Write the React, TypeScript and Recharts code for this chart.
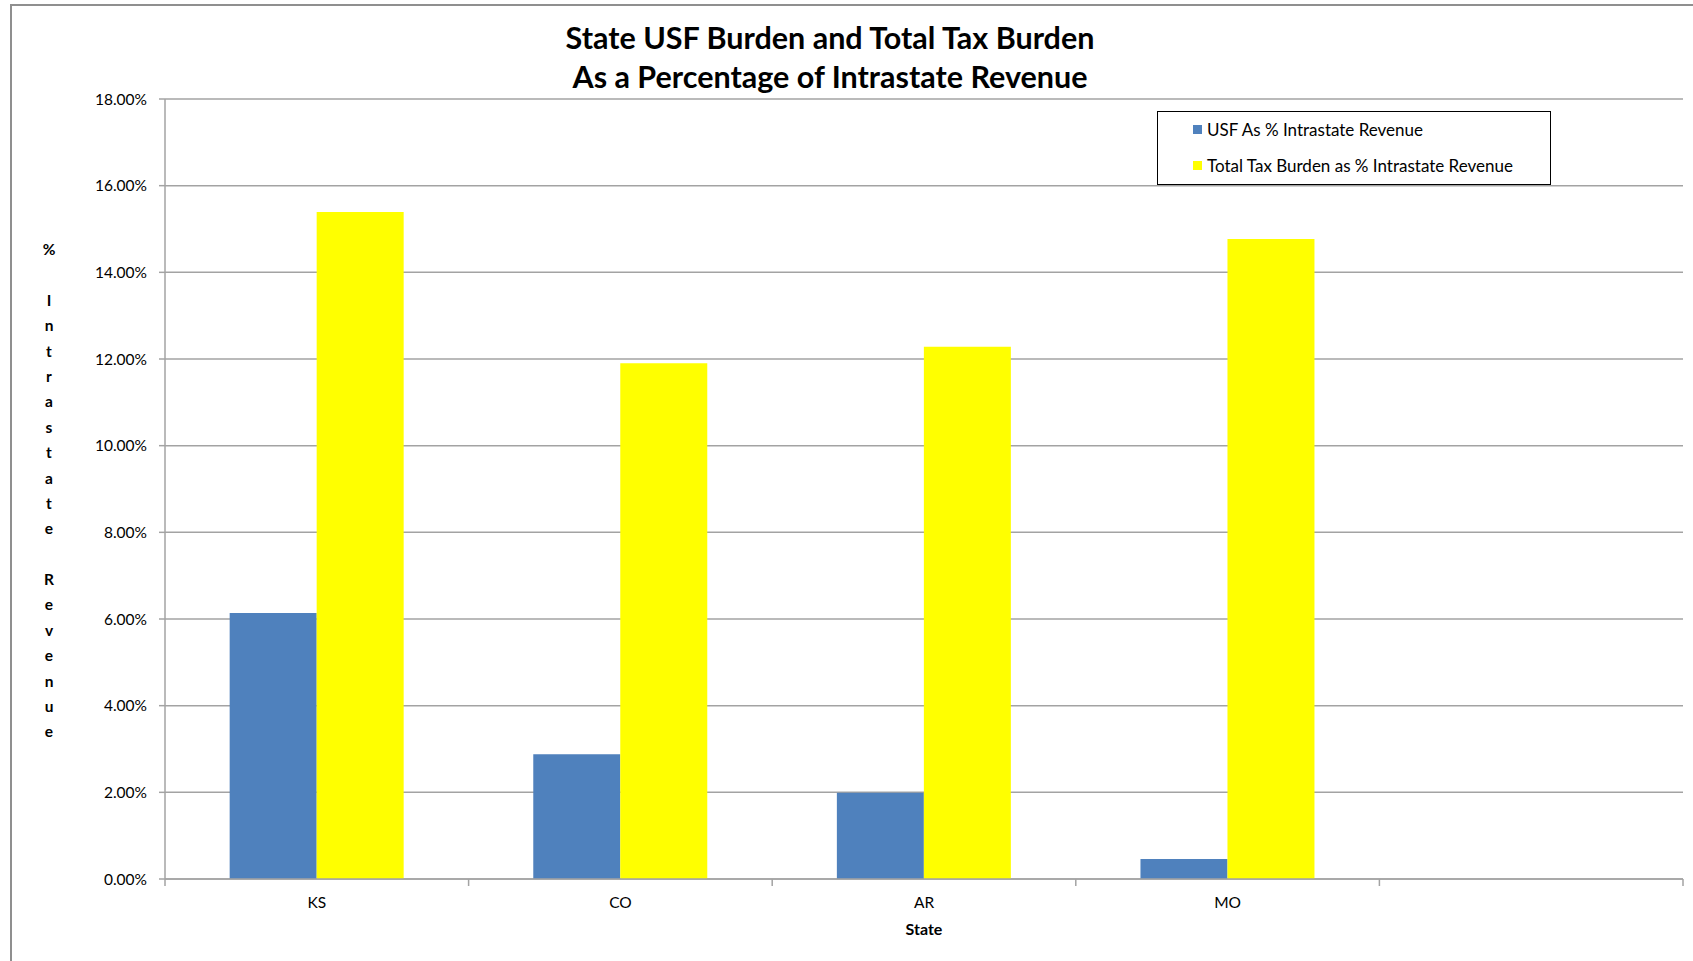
import React from "react";
import { Bar, BarChart, CartesianGrid, Legend, XAxis, YAxis } from "recharts";

// states along the x axis (last slot is empty in the original sheet)
const states = ["KS", "CO", "AR", "MO", ""];
const usfPct = [6.14, 2.88, 1.99, 0.46, null];
const totalTaxPct = [15.39, 11.9, 12.28, 14.77, null];
const yTicks = [0, 2, 4, 6, 8, 10, 12, 14, 16, 18];

const seriesNames = ["USF As % Intrastate Revenue", "Total Tax Burden as % Intrastate Revenue"];
const seriesColors = ["#4F81BD", "#FFFF00"];

const data = states.map((s, i) => ({
  state: s,
  usf: usfPct[i],
  total: totalTaxPct[i],
}));

const W = 1693;
const H = 961;
const PLOT_LEFT = 165;
const PLOT_RIGHT = 10;
const PLOT_W = W - PLOT_LEFT - PLOT_RIGHT;
const BAND = PLOT_W / states.length;
const FONT = "Lato, 'Open Sans', sans-serif";
const AXIS_GRAY = "#a3a3a3";

const yLabel = "% Intrastate Revenue".split("");

function StateTick(props: any) {
  const { x, y, payload, index } = props;
  const half = BAND / 2;
  return (
    <g>
      {index === 0 && <line x1={x - half} y1={y} x2={x - half} y2={y + 7} stroke={AXIS_GRAY} strokeWidth={1.5} />}
      <line x1={x + half} y1={y} x2={x + half} y2={y + 7} stroke={AXIS_GRAY} strokeWidth={1.5} />
      <text x={x} y={y + 23} textAnchor="middle" dominantBaseline="central" fontSize={15.5} fontFamily={FONT} fill="#000">
        {payload.value}
      </text>
    </g>
  );
}

function LegendBox() {
  return (
    <div
      style={{
        width: 394,
        height: 74,
        boxSizing: "border-box",
        border: "1.5px solid #000",
        background: "#fff",
        fontFamily: FONT,
        fontSize: 17,
        color: "#000",
        paddingTop: 6,
      }}
    >
      {seriesNames.map((name, i) => (
        <div key={name} style={{ display: "flex", alignItems: "center", height: 22, marginBottom: i === 0 ? 14.5 : 0, paddingLeft: 35 }}>
          <span style={{ width: 9, height: 9, background: seriesColors[i], marginRight: 5, display: "inline-block" }} />
          <span>{name}</span>
        </div>
      ))}
    </div>
  );
}

export default function App() {
  return (
    <div style={{ position: "absolute", left: 0, top: 0, width: W, height: H, overflow: "hidden", background: "#fff" }}>
      <div
        style={{
          position: "absolute",
          left: 10,
          top: 4,
          width: W,
          height: H,
          borderLeft: "2px solid #8f8f8f",
          borderTop: "2px solid #8f8f8f",
        }}
      />
      <div
        style={{
          position: "absolute",
          left: 830 - 450,
          top: 18,
          width: 900,
          textAlign: "center",
          fontFamily: FONT,
          fontWeight: 700,
          fontSize: 30.5,
          lineHeight: "39px",
          color: "#000",
        }}
      >
        <div>State USF Burden and Total Tax Burden</div>
        <div>As a Percentage of Intrastate Revenue</div>
      </div>
      <div
        style={{
          position: "absolute",
          left: 29,
          top: 237,
          width: 40,
          textAlign: "center",
          fontFamily: FONT,
          fontWeight: 700,
          fontSize: 15.5,
          lineHeight: "25.4px",
          color: "#000",
        }}
      >
        {yLabel.map((c, i) => (
          <div key={i} style={{ height: 25.4 }}>
            {c === " " ? "\u00a0" : c}
          </div>
        ))}
      </div>
      <div
        style={{
          position: "absolute",
          left: PLOT_LEFT,
          width: PLOT_W,
          top: 919,
          textAlign: "center",
          fontFamily: FONT,
          fontWeight: 700,
          fontSize: 16,
          color: "#000",
        }}
      >
        State
      </div>
      <div style={{ position: "absolute", left: 0, top: 0 }}>
        <BarChart
          width={W}
          height={H}
          data={data}
          margin={{ top: 99, right: PLOT_RIGHT, bottom: 0, left: 0 }}
          barCategoryGap="21.3%"
          barGap={0}
        >
          <CartesianGrid vertical={false} stroke={AXIS_GRAY} strokeWidth={1.5} />
          <XAxis
            dataKey="state"
            height={82}
            tickLine={false}
            tickSize={0}
            tickMargin={0}
            axisLine={{ stroke: AXIS_GRAY, strokeWidth: 1.5 }}
            tick={<StateTick />}
            interval={0}
          />
          <YAxis
            width={PLOT_LEFT}
            domain={[0, 18]}
            ticks={yTicks}
            interval={0}
            tickFormatter={(v: number) => v.toFixed(2) + "%"}
            tick={{ fontSize: 15.5, fontFamily: FONT, fill: "#000" }}
            tickSize={6}
            tickMargin={12}
            tickLine={{ stroke: AXIS_GRAY, strokeWidth: 1.5 }}
            axisLine={{ stroke: AXIS_GRAY, strokeWidth: 1.5 }}
          />
          <Legend
            layout="vertical"
            align="center"
            verticalAlign="middle"
            content={() => <LegendBox />}
            wrapperStyle={{ left: 1157, top: 111, width: 394 }}
          />
          <Bar dataKey="usf" name={seriesNames[0]} fill={seriesColors[0]} isAnimationActive={false} />
          <Bar dataKey="total" name={seriesNames[1]} fill={seriesColors[1]} isAnimationActive={false} />
        </BarChart>
      </div>
    </div>
  );
}
